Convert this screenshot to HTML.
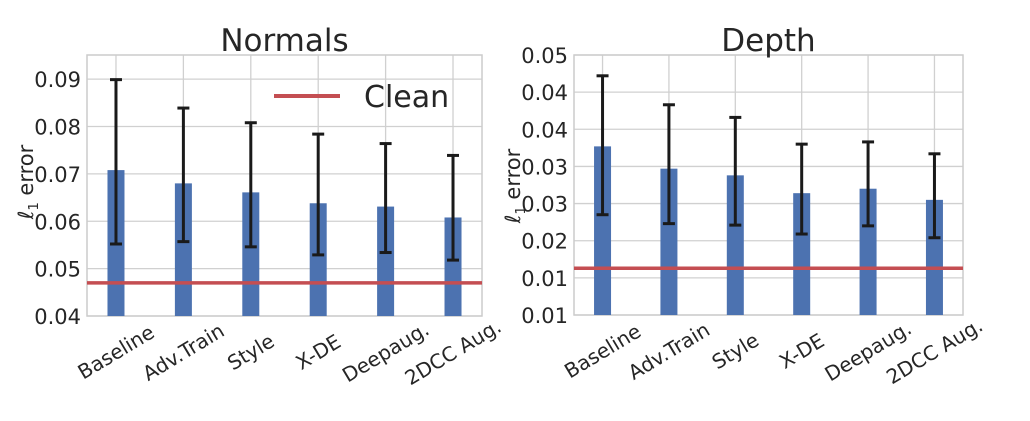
<!DOCTYPE html>
<html><head><meta charset="utf-8"><style>
body{margin:0;background:#fff;width:1030px;height:416px;overflow:hidden}
svg{font-family:"DejaVu Sans","Liberation Sans",sans-serif}
</style></head><body>
<svg id="c" width="1030" height="416"></svg>
<script>
const categories=["Baseline","Adv.Train","Style","X-DE","Deepaug.","2DCC Aug."];
const normalsMean=[0.0708,0.0680,0.0661,0.0638,0.0631,0.0608];
const normalsHi=[0.0899,0.0839,0.0808,0.0784,0.0764,0.0739];
const normalsLo=[0.0552,0.0557,0.0546,0.0529,0.0534,0.0518];
const normalsClean=0.047;
const normalsTicks=[0.04,0.05,0.06,0.07,0.08,0.09];
const normalsTickLabels=["0.04","0.05","0.06","0.07","0.08","0.09"];
const depthMean=[0.0327,0.0297,0.0288,0.0264,0.0270,0.0255];
const depthHi=[0.0422,0.0383,0.0366,0.0330,0.0333,0.0317];
const depthLo=[0.0235,0.0223,0.0221,0.0209,0.0220,0.0204];
const depthClean=0.0163;
const depthTicks=[0.010,0.015,0.020,0.025,0.030,0.035,0.040,0.045];
const depthTickLabels=["0.01","0.01","0.02","0.03","0.03","0.04","0.04","0.05"];

const NS="http://www.w3.org/2000/svg";
const svg=document.getElementById('c');
function mk(tag,attrs,parent,text){const e=document.createElementNS(NS,tag);for(const k in attrs)e.setAttribute(k,attrs[k]);if(text!==undefined)e.textContent=text;(parent||svg).appendChild(e);return e;}

function panel(o){
  const g=mk('g',{});
  
  
  const y=v=>o.y1-(v-o.ymin)/(o.ymax-o.ymin)*(o.y1-o.y0);
  const n=categories.length;
  const x=i=>o.x0+(i+0.43)/(n-1+0.86)*(o.x1-o.x0);
  o.ticks.forEach((t,i)=>{
    const gl=mk('line',{x1:o.x0,x2:o.x1,y1:y(t),y2:y(t),stroke:'#d0d0d0','stroke-width':1.3},g);
    
    
    const tl=mk('text',{x:o.x0-6,y:y(t)+8,'text-anchor':'end','font-size':21,fill:'#262626'},g,o.tickLabels[i]);
    
    
  });
  categories.forEach((c,i)=>{
    const vl=mk('line',{x1:x(i),x2:x(i),y1:o.y0,y2:o.y1,stroke:'#d0d0d0','stroke-width':1.3},g);
    
    
  });
  mk('rect',{x:o.x0,y:o.y0,width:o.x1-o.x0,height:o.y1-o.y0,fill:'none',stroke:'#cccccc','stroke-width':1.5},g);
  categories.forEach((c,i)=>{
    const b=mk('rect',{x:x(i)-8.5,y:y(o.mean[i]),width:17,height:o.y1-y(o.mean[i]),fill:'#4c72b0'},g);
    
    
  });
  const cl=mk('line',{x1:o.x0,x2:o.x1,y1:y(o.clean),y2:y(o.clean),stroke:'#c44e52','stroke-width':3.5},g);
  
  
  categories.forEach((c,i)=>{
    const e=mk('g',{stroke:'#1a1a1a','stroke-width':3},g);
    
    
    mk('line',{x1:x(i),x2:x(i),y1:y(o.hi[i]),y2:y(o.lo[i])},e);
    mk('line',{x1:x(i)-6,x2:x(i)+6,y1:y(o.hi[i]),y2:y(o.hi[i])},e);
    mk('line',{x1:x(i)-6,x2:x(i)+6,y1:y(o.lo[i]),y2:y(o.lo[i])},e);
    const t=mk('text',{'text-anchor':'middle','dominant-baseline':'central','font-size':20,fill:'#262626',transform:`translate(${x(i)},${o.y1+36}) rotate(-31)`},g,c);
    
    
  });
  const ti=mk('text',{x:(o.x0+o.x1)/2,y:o.y0-4,'text-anchor':'middle','font-size':31,fill:'#262626'},g,o.title);
  
  
  const yt=mk('text',{'text-anchor':'middle','font-size':21,fill:'#262626',transform:`translate(${o.ytx},${o.yty}) rotate(-90)`},g);
  
  
  mk('tspan',{'font-style':'italic'},yt,'ℓ');
  mk('tspan',{'font-size':13,dy:5},yt,'1');
  mk('tspan',{dy:-5},yt,' error');
  return {g,y,x};
}
const p1=panel({name:'normals-panel',title:'Normals',x0:87,x1:482,y0:55,y1:316,ymin:0.04,ymax:0.0951,ticks:normalsTicks,tickLabels:normalsTickLabels,mean:normalsMean,hi:normalsHi,lo:normalsLo,clean:normalsClean,ytx:33,yty:182});
const p2=panel({name:'depth-panel',title:'Depth',x0:574,x1:963,y0:55,y1:315,ymin:0.010,ymax:0.045,ticks:depthTicks,tickLabels:depthTickLabels,mean:depthMean,hi:depthHi,lo:depthLo,clean:depthClean,ytx:520,yty:186});
const lg=mk('g',{});


mk('line',{x1:274,x2:340,y1:96,y2:96,stroke:'#c44e52','stroke-width':4},lg);
const lt=mk('text',{x:364,y:107,'font-size':30,fill:'#262626'},lg,'Clean');


</script>
</body></html>
